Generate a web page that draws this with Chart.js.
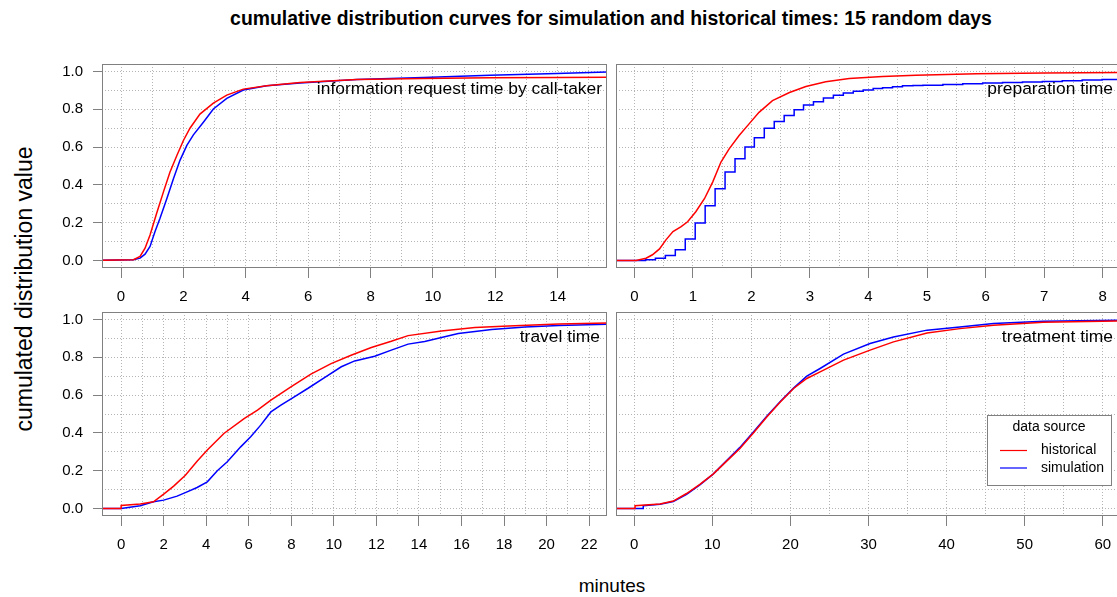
<!DOCTYPE html>
<html>
<head>
<meta charset="utf-8">
<script src="https://cdn.jsdelivr.net/npm/chart.js@4.4.0/dist/chart.umd.min.js"></script>
<style>
  html, body { margin: 0; padding: 0; width: 1117px; height: 597px; overflow: hidden; background: #fff; }
  body { position: relative; font-family: "Liberation Sans", Arial, sans-serif; color: #000; }
  canvas { position: absolute; }
  .txt { position: absolute; white-space: nowrap; transform: translate(-50%, -50%); }
  #title { left: 611px; top: 18px; font-weight: bold; font-size: 19.4px; }
  #xlab { left: 612px; top: 586px; font-size: 19px; }
  #ylab { left: 24px; top: 289px; font-size: 23px; transform: translate(-50%, -50%) rotate(-90deg); }
</style>
</head>
<body>
<div id="title" class="txt">cumulative distribution curves for simulation and historical times: 15 random days</div>
<div id="ylab" class="txt">cumulated distribution value</div>
<div id="xlab" class="txt">minutes</div>

<canvas id="info" width="587" height="268" style="left:40px;top:44px"></canvas>
<canvas id="prep" width="545" height="268" style="left:596px;top:44px"></canvas>
<canvas id="trav" width="587" height="268" style="left:40px;top:292px"></canvas>
<canvas id="treat" width="545" height="268" style="left:596px;top:292px"></canvas>

<script>
// --- data (minutes, cumulative share) ---
const seriesNames = ['historical', 'simulation'];
const yTicks = [0, 0.2, 0.4, 0.6, 0.8, 1.0];

// information request time by call-taker
const infoTicks = [0, 2, 4, 6, 8, 10, 12, 14];
const infoHistX = [-1, 0.40, 0.61, 0.77, 0.93, 1.14, 1.36, 1.57, 1.79, 2.00, 2.21, 2.53, 2.96, 3.39, 3.92, 4.67, 5.74, 7.56, 9.69, 11.83, 13.97, 16];
const infoHistY = [0, 0.004, 0.021, 0.065, 0.135, 0.249, 0.363, 0.468, 0.556, 0.635, 0.700, 0.775, 0.833, 0.875, 0.907, 0.925, 0.942, 0.958, 0.963, 0.967, 0.969, 0.970];
const infoSimX = [-1, 0.40, 0.61, 0.77, 0.93, 1.09, 1.25, 1.47, 1.68, 1.89, 2.11, 2.32, 2.64, 2.96, 3.39, 3.92, 4.67, 5.74, 7.56, 9.69, 11.83, 13.97, 16];
const infoSimY = [0, 0.004, 0.012, 0.033, 0.074, 0.153, 0.223, 0.328, 0.433, 0.530, 0.609, 0.665, 0.732, 0.802, 0.858, 0.902, 0.925, 0.940, 0.958, 0.968, 0.980, 0.990, 0.999];

// preparation time (simulation is a step function)
const prepTicks = [0, 1, 2, 3, 4, 5, 6, 7, 8];
const prepHistX = [-1, 0.03, 0.20, 0.31, 0.43, 0.54, 0.66, 0.80, 0.91, 1.05, 1.20, 1.34, 1.48, 1.62, 1.79, 1.96, 2.13, 2.36, 2.65, 2.93, 3.27, 3.67, 4.24, 4.81, 5.85, 7.00, 8.50];
const prepHistY = [0, 0, 0.012, 0.030, 0.061, 0.109, 0.153, 0.179, 0.205, 0.258, 0.328, 0.416, 0.521, 0.591, 0.661, 0.723, 0.784, 0.846, 0.889, 0.921, 0.946, 0.963, 0.974, 0.981, 0.989, 0.993, 0.996];
const prepSimX = [-1, 0.19, 0.36, 0.53, 0.70, 0.87, 1.04, 1.21, 1.38, 1.55, 1.72, 1.89, 2.05, 2.22, 2.39, 2.56, 2.73, 2.89, 3.06, 3.23, 3.40, 3.57, 3.74, 3.91, 4.08, 4.24, 4.41, 4.58, 4.76, 4.93, 5.27, 5.61, 5.95, 6.29, 6.63, 6.97, 7.31, 7.65, 7.99, 8.33];
const prepSimY = [0, 0.004, 0.012, 0.026, 0.056, 0.114, 0.198, 0.289, 0.379, 0.468, 0.539, 0.600, 0.649, 0.700, 0.735, 0.767, 0.798, 0.823, 0.840, 0.860, 0.875, 0.886, 0.896, 0.903, 0.910, 0.914, 0.919, 0.925, 0.926, 0.927, 0.931, 0.935, 0.939, 0.942, 0.945, 0.948, 0.951, 0.955, 0.958, 0.962];

// travel time
const travTicks = [0, 2, 4, 6, 8, 10, 12, 14, 16, 18, 20, 22];
const travHistX = [-1, 0, 0, 0.90, 1.52, 2.00, 2.47, 3.02, 3.57, 4.05, 4.83, 5.78, 6.41, 7.04, 7.98, 8.92, 9.87, 10.81, 11.76, 12.70, 13.49, 15.06, 16.63, 18.21, 20.57, 22.93, 24];
const travHistY = [0, 0, 0.016, 0.023, 0.035, 0.076, 0.118, 0.176, 0.250, 0.309, 0.397, 0.476, 0.520, 0.573, 0.644, 0.711, 0.767, 0.811, 0.852, 0.885, 0.915, 0.940, 0.958, 0.966, 0.977, 0.982, 0.983];
const travSimX = [-1, 0, 0.90, 1.52, 2.00, 2.63, 3.10, 3.57, 4.05, 4.52, 4.99, 5.62, 6.09, 6.56, 7.04, 7.51, 8.14, 8.77, 9.56, 10.35, 10.98, 11.92, 12.70, 13.49, 14.27, 15.85, 17.42, 18.99, 20.57, 22.93, 24];
const travSimY = [0, 0, 0.014, 0.035, 0.044, 0.065, 0.088, 0.111, 0.141, 0.200, 0.247, 0.326, 0.379, 0.441, 0.511, 0.547, 0.591, 0.635, 0.693, 0.750, 0.781, 0.806, 0.838, 0.870, 0.884, 0.926, 0.947, 0.961, 0.968, 0.975, 0.976];

// treatment time
const treatTicks = [0, 10, 20, 30, 40, 50, 60];
const treatHistX = [-3, 0.1, 0.1, 3.3, 5.0, 6.7, 8.4, 10.1, 11.8, 13.5, 15.2, 17.0, 18.7, 20.4, 22.1, 23.8, 26.8, 30.2, 33.2, 37.5, 41.7, 46.0, 52.4, 61.8, 64];
const treatHistY = [0, 0, 0.014, 0.023, 0.039, 0.079, 0.127, 0.182, 0.249, 0.316, 0.397, 0.485, 0.564, 0.635, 0.688, 0.723, 0.785, 0.838, 0.882, 0.929, 0.952, 0.970, 0.986, 0.993, 0.994];
const treatSimX = [-3, 1.15, 1.15, 3.3, 5.0, 6.7, 8.4, 10.1, 11.8, 13.5, 15.2, 17.0, 18.7, 20.4, 22.1, 23.8, 26.8, 30.2, 33.2, 37.5, 41.7, 46.0, 52.4, 61.8, 64];
const treatSimY = [0, 0, 0.014, 0.022, 0.037, 0.075, 0.125, 0.182, 0.252, 0.322, 0.402, 0.490, 0.566, 0.637, 0.700, 0.741, 0.817, 0.873, 0.908, 0.944, 0.961, 0.979, 0.991, 0.996, 0.997];

const FONT = '"Liberation Sans", Arial, sans-serif';
const RED = '#ff0000';
const BLUE = '#0000ff';
const FRAME = '#808080';
const GRID = '#b4b4b4';

Chart.defaults.font.family = FONT;
Chart.defaults.font.size = 15;
Chart.defaults.color = '#000';

const toPoints = (xs, ys) => xs.map((x, i) => ({ x: x, y: ys[i] }));
const hasTick = (arr, v) => arr.some(t => Math.abs(t - v) < 1e-6);

function gridValues(min, max, step) {
  const out = [];
  for (let v = Math.ceil(min / step - 1e-9) * step; v <= max + 1e-9; v += step) {
    out.push(Math.round(v * 1000) / 1000);
  }
  return out;
}

// box around the plot region
const framePlugin = {
  id: 'frame',
  afterDraw(chart) {
    const a = chart.chartArea, ctx = chart.ctx;
    ctx.save();
    ctx.strokeStyle = FRAME;
    ctx.lineWidth = 1;
    ctx.strokeRect(Math.round(a.left) + 0.5, Math.round(a.top) + 0.5,
                   Math.round(a.right - a.left) - 1, Math.round(a.bottom - a.top) - 1);
    ctx.restore();
  }
};

// panel caption in the top right corner
const captionPlugin = {
  id: 'caption',
  afterDatasetsDraw(chart, args, opts) {
    const a = chart.chartArea, ctx = chart.ctx;
    ctx.save();
    ctx.font = '17.4px ' + FONT;
    ctx.fillStyle = '#000';
    ctx.textAlign = 'right';
    ctx.textBaseline = 'middle';
    ctx.fillText(opts.text, a.right - opts.inset, a.top + 25);
    ctx.restore();
  }
};

// boxed legend, drawn only on the treatment panel
const boxLegendPlugin = {
  id: 'boxLegend',
  afterDraw(chart, args, opts) {
    if (!opts.show) return;
    const a = chart.chartArea, ctx = chart.ctx;
    const w = 124, h = 70;
    const left = Math.round(a.right - 10 - w), top = Math.round(a.bottom - 31 - h);
    ctx.save();
    ctx.fillStyle = '#fff';
    ctx.fillRect(left, top, w, h);
    ctx.strokeStyle = FRAME;
    ctx.lineWidth = 1;
    ctx.strokeRect(left + 0.5, top + 0.5, w, h);
    ctx.fillStyle = '#000';
    ctx.font = '14px ' + FONT;
    ctx.textBaseline = 'middle';
    ctx.textAlign = 'center';
    ctx.fillText('data source', left + w / 2, top + 12.5);
    ctx.textAlign = 'left';
    chart.data.datasets.forEach((ds, i) => {
      const y = top + 35.5 + i * 17.5;
      ctx.strokeStyle = ds.borderColor;
      ctx.lineWidth = 1.2;
      ctx.beginPath();
      ctx.moveTo(left + 13, y);
      ctx.lineTo(left + 40, y);
      ctx.stroke();
      ctx.fillText(ds.label, left + 54, y);
    });
    ctx.restore();
  }
};

function makePanel(id, p) {
  const xGrid = gridValues(p.xMin, p.xMax, p.step);
  const yGrid = gridValues(0, 1, 0.1);
  new Chart(document.getElementById(id), {
    type: 'line',
    data: {
      datasets: [
        { label: seriesNames[0], data: toPoints(p.histX, p.histY), borderColor: RED,
          borderWidth: 1.5, pointRadius: 0, tension: 0, clip: 0 },
        { label: seriesNames[1], data: toPoints(p.simX, p.simY), borderColor: BLUE,
          borderWidth: 1.5, pointRadius: 0, tension: 0, clip: 0, stepped: p.stepped ? 'before' : false }
      ]
    },
    options: {
      responsive: false,
      animation: false,
      events: [],
      layout: { padding: { top: 20, right: 20, bottom: 0, left: p.showY ? 0 : 20 } },
      plugins: {
        legend: { display: false },
        tooltip: { enabled: false },
        caption: { text: p.caption, inset: p.inset },
        boxLegend: { show: !!p.legend }
      },
      scales: {
        x: {
          type: 'linear',
          min: p.xMin,
          max: p.xMax,
          afterBuildTicks: ax => { ax.ticks = xGrid.map(v => ({ value: v })); },
          afterFit: ax => { ax.height = 44; },
          ticks: {
            autoSkip: false, maxRotation: 0, padding: 10,
            callback: v => hasTick(p.ticks, v) ? String(v) : ''
          },
          grid: {
            color: GRID, lineWidth: 1, tickLength: 10,
            tickColor: c => (c.tick && hasTick(p.ticks, c.tick.value)) ? FRAME : 'rgba(0,0,0,0)'
          },
          border: { display: false, dash: [1, 2] }
        },
        y: {
          type: 'linear',
          min: -0.04,
          max: 1.04,
          afterBuildTicks: ax => { ax.ticks = yGrid.map(v => ({ value: v })); },
          afterFit: ax => { ax.width = p.showY ? 62 : 0; },
          ticks: {
            display: p.showY, autoSkip: false, padding: 10,
            callback: v => hasTick(yTicks, v) ? v.toFixed(1) : ''
          },
          grid: {
            color: GRID, lineWidth: 1, tickLength: 9, drawTicks: p.showY,
            tickColor: c => (c.tick && hasTick(yTicks, c.tick.value)) ? FRAME : 'rgba(0,0,0,0)'
          },
          border: { display: false, dash: [1, 2] }
        }
      }
    },
    plugins: [framePlugin, captionPlugin, boxLegendPlugin]
  });
}

makePanel('info', {
  xMin: -0.61, xMax: 15.58, step: 1, ticks: infoTicks, showY: true,
  histX: infoHistX, histY: infoHistY, simX: infoSimX, simY: infoSimY,
  caption: 'information request time by call-taker', inset: 5
});
makePanel('prep', {
  xMin: -0.313, xMax: 8.313, step: 0.5, ticks: prepTicks, showY: false, stepped: true,
  histX: prepHistX, histY: prepHistY, simX: prepSimX, simY: prepSimY,
  caption: 'preparation time', inset: 8
});
makePanel('trav', {
  xMin: -0.9, xMax: 22.84, step: 1, ticks: travTicks, showY: true,
  histX: travHistX, histY: travHistY, simX: travSimX, simY: travSimY,
  caption: 'travel time', inset: 7
});
makePanel('treat', {
  xMin: -2.34, xMax: 62.34, step: 5, ticks: treatTicks, showY: false, legend: true,
  histX: treatHistX, histY: treatHistY, simX: treatSimX, simY: treatSimY,
  caption: 'treatment time', inset: 8
});
</script>
</body>
</html>
